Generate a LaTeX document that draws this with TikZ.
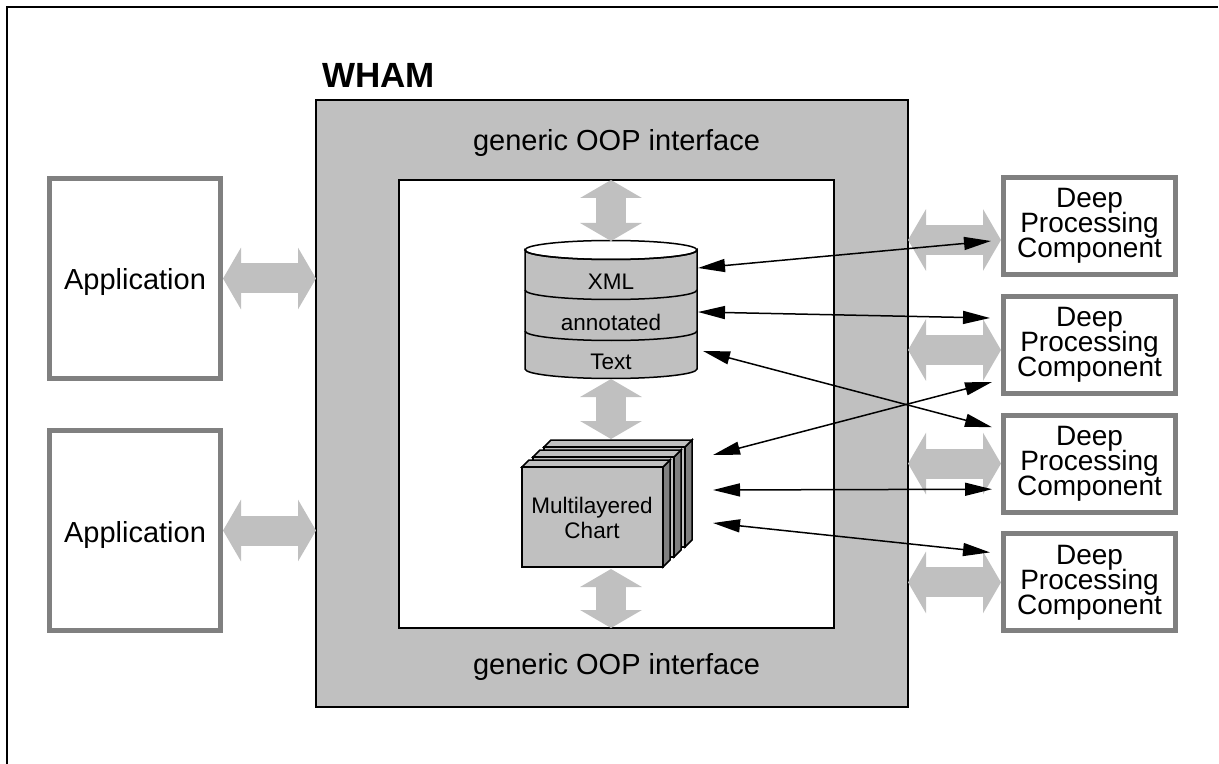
\documentclass[tikz,border=0pt]{standalone}
\usepackage{fontspec}
\setmainfont{Liberation Sans}
\usetikzlibrary{arrows.meta,positioning}

\definecolor{boxgray}{HTML}{C0C0C0}
\definecolor{rimgray}{HTML}{808080}
\newcommand\tightlines{\lineskiplimit-6pt\relax}

\begin{document}
\begin{tikzpicture}[
  x=0.5pt, y=-0.5pt,
  lbl/.style={font=\fontsize{14.5}{12.5}\selectfont},
  sml/.style={font=\fontsize{11.25}{12.5}\selectfont\tightlines},
  outbox/.style={draw=rimgray, line width=2.5pt, fill=white, lbl, align=center},
  app/.style={outbox, minimum width=85.5pt, minimum height=100pt, text height=11.5pt, text depth=0pt},
  dpc/.style={outbox, minimum width=86pt, minimum height=48.5pt, inner sep=0pt, font=\fontsize{14}{12.5}\selectfont\tightlines},
  flow/.style={draw=boxgray, line width=15pt, {Triangle[length=9pt,width=30.5pt]}-{Triangle[length=9pt,width=30.5pt]}},
  link/.style={draw=black, line width=0.75pt, {Triangle[length=13.5pt,width=6.5pt]}-{Triangle[length=13.5pt,width=6.5pt]}},
]
\useasboundingbox (0,0) rectangle (1219,764);
% ---------------- frame ----------------
\draw[line width=1pt] (7,770) -- (7,7) -- (1218,7);

% ---------------- WHAM ----------------
\node[draw, line width=1.25pt, fill=boxgray, minimum width=296pt, minimum height=303.5pt, outer sep=0pt] (wham) at (612,403.5) {};
\node[draw, line width=0.75pt, fill=white, minimum width=217.5pt, minimum height=224pt, outer sep=0pt] (inner) at (616.5,404) {};
\node[anchor=base west, inner sep=0pt, font=\fontsize{17.5}{20}\selectfont\bfseries] (title) at (322,88) {WHAM};
\node[lbl] (oop-top) at (616.5,143) {generic OOP interface};
\node[lbl] (oop-bot) at (616.5,667) {generic OOP interface};

% ---------------- annotated text store ----------------
\path[fill=boxgray, draw=black, line width=0.75pt]
  (525,250) arc[start angle=180, end angle=360, x radius=43pt, y radius=4.75pt]
  -- (697,369) arc[start angle=0, end angle=-180, x radius=43pt, y radius=4.75pt] -- cycle;
\draw[line width=0.75pt] (611,250) ellipse[x radius=43pt, y radius=4.75pt];
\foreach \yy in {290,331}
  \draw[line width=0.75pt] (525,\yy) arc[start angle=180, end angle=360, x radius=43pt, y radius=4.75pt];
\node[sml] (xml) at (611,282) {XML};
\node[sml] (annot) at (611,322) {annotated};
\node[sml] (txt) at (611,362) {Text};

% ---------------- chart layers ----------------
\foreach \k in {2,1,0} {
  \begin{scope}[shift={(11*\k,-10*\k)}, line width=0.75pt]
    \draw[fill=rimgray] (663,467) -- (670,460) -- (670,560) -- (663,567) -- cycle;
    \draw[fill=boxgray] (522,467) -- (529,460) -- (670,460) -- (663,467) -- cycle;
    \draw[fill=boxgray] (522,467) rectangle (663,567);
  \end{scope}
}
\node[sml, align=center] (chart) at (592,518) {Multilayered\\Chart};

% ---------------- applications ----------------
\node[app] (app1) at (135,278.5) {Application};
\node[app, below=23.5pt of app1] (app2) {Application};

% ---------------- deep processing components ----------------
\node[dpc] (dpc1) at (1089.5,226) {Deep\\Processing\\Component};
\node[dpc, below=8.4pt of dpc1] (dpc2) {Deep\\Processing\\Component};
\node[dpc, below=8.4pt of dpc2] (dpc3) {Deep\\Processing\\Component};
\node[dpc, below=8.4pt of dpc3] (dpc4) {Deep\\Processing\\Component};

% ---------------- interface arrows ----------------
\coordinate (dbtop) at (611,241);
\coordinate (dbbot) at (611,379);
\coordinate (charttop) at (611,439);
\coordinate (chartbot) at (611,569);
\coordinate (f1) at ([yshift=-7pt]dpc1.west);
\coordinate (f2) at ([yshift=-2.6pt]dpc2.west);

\draw[flow] (app1.east) -- (app1.east -| wham.west);
\draw[flow] (app2.east) -- (app2.east -| wham.west);
\draw[flow] (f1 -| wham.east) -- (f1);
\draw[flow] (f2 -| wham.east) -- (f2);
\draw[flow] (dpc3.west -| wham.east) -- (dpc3.west);
\draw[flow] (dpc4.west -| wham.east) -- (dpc4.west);
\draw[flow] (inner.north -| dbtop) -- (dbtop);
\draw[flow] (dbbot) -- (charttop);
\draw[flow] (chartbot) -- (inner.south -| chartbot);

% ---------------- component links ----------------
\coordinate (db1) at (698,268);
\coordinate (db2) at (698,312);
\coordinate (db3) at (703,351);
\coordinate (ch1) at (713,455);
\coordinate (ch2) at (713,490);
\coordinate (ch3) at (713,523);

\draw[link] (db1) -- ([xshift=-5pt,yshift=-7.5pt]dpc1.west);
\draw[link] (db2) -- ([xshift=-5.5pt,yshift=13.4pt]dpc2.west);
\draw[link] (db3) -- ([xshift=-4.5pt,yshift=18.2pt]dpc3.west);
\draw[link] (ch1) -- ([xshift=-4.5pt,yshift=-18.6pt]dpc2.west);
\draw[link] (ch2) -- ([xshift=-4.5pt,yshift=-12.8pt]dpc3.west);
\draw[link] (ch3) -- ([xshift=-5.5pt,yshift=15pt]dpc4.west);
\end{tikzpicture}
\end{document}
